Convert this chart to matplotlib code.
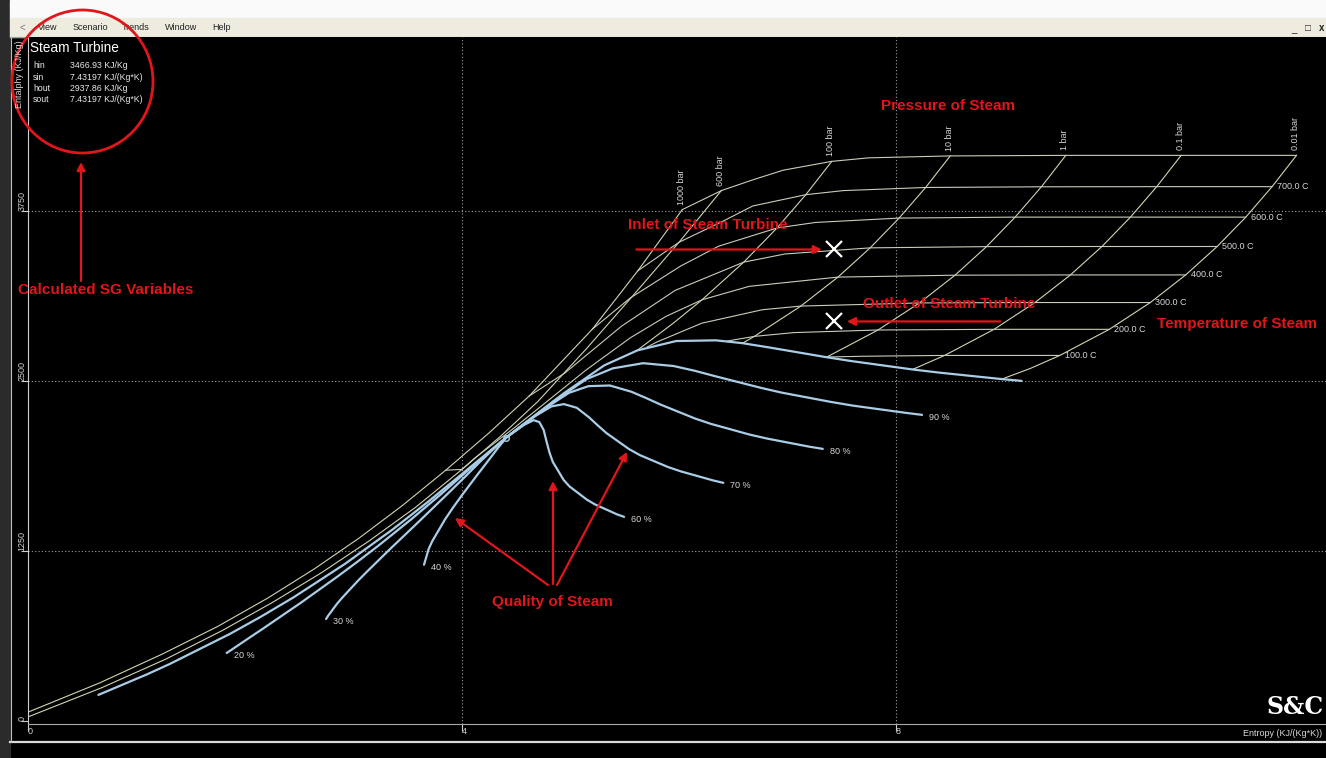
import matplotlib
matplotlib.use("Agg")
import matplotlib.pyplot as plt
from matplotlib.patches import Rectangle, Ellipse

plt.rcParams['font.family'] = ['Liberation Sans', 'DejaVu Sans']

# turbine state points
h_in, s_in = 3466.93, 7.43197
h_out, s_out = 2937.86, 7.43197

# isobars (s, h), from the 800 C end downwards
isobar_1000 = [(6.03, 3760), (5.62, 3310), (5.20, 2880), (4.62, 2390), (4.25, 2119), (3.85, 1844),
               (3.45, 1584), (3.05, 1344), (2.64, 1119), (2.21, 904), (1.75, 696), (1.24, 493),
               (0.66, 280), (0.00, 65)]
isobar_600 = [(6.39, 3900), (6.00, 3520), (5.60, 3150), (5.15, 2740), (4.70, 2350), (4.35, 2090),
              (4.00, 1850), (3.57, 1570), (3.14, 1322), (2.71, 1093), (2.26, 875), (1.79, 665),
              (1.27, 455), (0.68, 245), (0.00, 30)]
isobar_100 = [(7.408, 4115), (7.169, 3870), (6.903, 3625), (6.597, 3374), (6.212, 3097),
              (5.944, 2923), (5.614, 2725)]
isobar_10 = [(8.500, 4155), (8.273, 3923), (8.029, 3698), (7.762, 3479), (7.465, 3264),
             (7.123, 3051), (6.694, 2828), (6.586, 2778)]
isobar_1 = [(9.565, 4159), (9.340, 3928), (9.098, 3705), (8.834, 3488), (8.544, 3278),
            (8.216, 3074), (7.834, 2875), (7.359, 2675)]
isobar_01 = [(10.628, 4159), (10.403, 3929), (10.161, 3705), (9.898, 3489), (9.608, 3280),
             (9.281, 3077), (8.904, 2880), (8.448, 2688), (8.173, 2592), (8.151, 2585)]
isobar_001 = [(11.691, 4159), (11.466, 3929), (11.224, 3705), (10.960, 3489), (10.670, 3280),
              (10.344, 3077), (9.966, 2880), (9.510, 2688), (9.237, 2592), (8.975, 2514)]
isobars = [isobar_1000, isobar_600, isobar_100, isobar_10, isobar_1, isobar_01, isobar_001]
isobar_labels = ['1000 bar', '600 bar', '100 bar', '10 bar', '1 bar', '0.1 bar', '0.01 bar']

# isotherms (s, h), left to right
isotherm_800 = [(6.03, 3760), (6.39, 3900), (6.68, 3979), (6.96, 4050), (7.408, 4115), (7.75, 4141),
                (8.500, 4155), (9.565, 4159), (10.628, 4159), (11.691, 4159)]
isotherm_700 = [(5.62, 3310), (6.00, 3520), (6.42, 3681), (6.68, 3787), (7.169, 3870), (7.514, 3900),
                (8.273, 3923), (9.340, 3928), (10.403, 3929), (11.466, 3929)]
isotherm_600 = [(5.20, 2880), (5.55, 3110), (6.017, 3346), (6.364, 3491), (6.903, 3625), (7.260, 3666),
                (8.029, 3698), (9.098, 3705), (10.161, 3705), (11.224, 3705)]
isotherm_500 = [(4.62, 2390), (4.95, 2560), (5.470, 2903), (5.964, 3166), (6.597, 3374), (6.977, 3434),
                (7.762, 3479), (8.834, 3488), (9.898, 3489), (10.960, 3489)]
isotherm_400 = [(3.85, 1844), (4.00, 1850), (4.114, 1931), (4.476, 2152), (5.142, 2580), (5.554, 2819),
                (5.882, 2976), (6.212, 3097), (6.647, 3196), (7.465, 3264), (8.544, 3278),
                (9.608, 3280), (10.670, 3280)]
isotherm_300 = [(5.705, 2749), (5.794, 2786), (6.210, 2925), (6.768, 3024), (7.123, 3051),
                (8.216, 3074), (9.281, 3077), (10.344, 3077)]
isotherm_200 = [(6.431, 2792), (6.694, 2828), (7.061, 2856), (7.834, 2875), (8.904, 2880), (9.966, 2880)]
isotherm_100 = [(7.355, 2676), (7.695, 2682), (8.448, 2688), (9.510, 2688)]
isotherms = [isotherm_800, isotherm_700, isotherm_600, isotherm_500, isotherm_400,
             isotherm_300, isotherm_200, isotherm_100]
isotherm_labels = ['', '700.0 C', '600.0 C', '500.0 C', '400.0 C', '300.0 C', '200.0 C', '100.0 C']

# quality lines (s, h), from low pressure end to critical point
q0 = [(0.649, 192), (1.091, 341), (1.303, 418), (1.860, 640), (2.138, 763), (2.447, 909), (2.921, 1155),
      (3.360, 1408), (3.684, 1610), (4.015, 1826), (4.407, 2084)]
q20 = [(1.831, 500), (1.880, 526), (2.060, 623), (2.149, 670), (2.391, 802), (2.514, 869), (2.852, 1062),
       (3.028, 1166), (3.226, 1287), (3.532, 1483), (3.811, 1671), (4.009, 1811), (4.200, 1943), (4.407, 2084)]
q30 = [(2.747, 750), (2.767, 775), (2.851, 865), (2.900, 910), (3.042, 1032), (3.120, 1095), (3.348, 1273),
       (3.472, 1367), (3.615, 1476), (3.837, 1647), (4.037, 1803), (4.172, 1911), (4.293, 2002), (4.407, 2084)]
q40 = [(3.650, 1149), (3.692, 1263), (3.725, 1321), (3.844, 1483), (3.917, 1569), (4.004, 1665),
       (4.142, 1811), (4.262, 1935), (4.335, 2012), (4.385, 2060), (4.407, 2084)]
q60 = [(5.494, 1501), (5.427, 1520), (5.227, 1592), (5.150, 1628), (4.992, 1724), (4.937, 1772), (4.837, 1905),
       (4.807, 1972), (4.783, 2043), (4.753, 2139), (4.713, 2198), (4.660, 2212), (4.571, 2177), (4.407, 2084)]
q70 = [(6.409, 1751), (6.314, 1769), (6.019, 1835), (5.900, 1867), (5.642, 1954), (5.542, 1998), (5.333, 2116),
       (5.252, 2173), (5.172, 2232), (5.058, 2303), (4.939, 2330), (4.823, 2313), (4.663, 2236), (4.407, 2084)]
q80 = [(7.325, 2001), (7.201, 2017), (6.810, 2077), (6.651, 2106), (6.293, 2185), (6.148, 2224), (5.829, 2327),
       (5.696, 2375), (5.561, 2421), (5.363, 2467), (5.164, 2462), (4.986, 2413), (4.756, 2294), (4.407, 2084)]
q90 = [(8.240, 2251), (8.088, 2266), (7.602, 2319), (7.401, 2346), (6.943, 2415), (6.753, 2450), (6.325, 2537),
       (6.141, 2576), (5.951, 2610), (5.669, 2631), (5.390, 2593), (5.148, 2514), (4.848, 2353), (4.407, 2084)]
q100 = [(9.156, 2501), (8.975, 2514), (8.394, 2562), (8.151, 2585), (7.593, 2646), (7.359, 2675), (6.821, 2748),
        (6.586, 2778), (6.340, 2799), (5.974, 2794), (5.616, 2725), (5.311, 2615), (4.941, 2411), (4.407, 2084)]
quality_lines = [q0, q20, q30, q40, q60, q70, q80, q90, q100]
quality_labels = ['', '20 %', '30 %', '40 %', '60 %', '70 %', '80 %', '90 %', '']
critical = (4.407, 2084)

x_ticks = [0, 4, 8]
y_ticks = [0, 1250, 2500, 3750]

RED = '#e0161b'
W, H = 1326, 758

fig = plt.figure(figsize=(W / 100, H / 100), dpi=100, facecolor='black')

# window frame / menu bar
bg = fig.add_axes([0, 0, 1, 1])
bg.set_xlim(0, W)
bg.set_ylim(H, 0)
bg.axis('off')
bg.add_patch(Rectangle((0, 0), W, H, color='black'))
bg.add_patch(Rectangle((0, 0), 10, H, color='#2b2b2b'))
bg.add_patch(Rectangle((10, 0), W - 10, 18, color='#fafafa'))
bg.add_patch(Rectangle((10, 18), W - 10, 19, color='#eeebdf'))
bg.plot([10, W], [37, 37], color='#a0a0a0', lw=0.8)
bg.plot([10, W], [742, 742], color='#dcdcdc', lw=1.6)
bg.plot([10.5, 10.5], [37, 742], color='#bdbdbd', lw=0.8)
bg.text(22, 27.5, '<', fontsize=7, color='#777777', ha='center', va='center')
for name, xm in [('View', 38), ('Scenario', 73), ('Trends', 122), ('Window', 165), ('Help', 212)]:
    bg.text(xm, 27.5, name, fontsize=6.5, color='#222222', ha='left', va='center')
bg.text(1294, 29, '_', fontsize=7, color='#222222', ha='center', va='center')
bg.text(1308, 28, '\u25a1', fontsize=7, color='#222222', ha='center', va='center')
bg.text(1322, 28, 'x', fontsize=7, color='#222222', ha='center', va='center', weight='bold')

# chart axes
x0, y_top, y_bot = 28, 37, 724
px_s, px_h = 108.5, 0.136
ax = fig.add_axes([x0 / W, 1 - y_bot / H, (W - x0) / W, (y_bot - y_top) / H], zorder=2)
ax.set_facecolor('black')
ax.set_xlim(0, (W - x0) / px_s)
ax.set_ylim(-(y_bot - 721) / px_h, (721 - y_top) / px_h)
for sp in ['top', 'right']:
    ax.spines[sp].set_visible(False)
ax.spines['left'].set_color('#d0d0d0')
ax.spines['bottom'].set_color('#a8a8a8')
ax.set_xticks(x_ticks)
ax.set_xticklabels([str(v) for v in x_ticks])
ax.set_yticks(y_ticks)
ax.set_yticklabels([str(v) for v in y_ticks])
ax.tick_params(colors='#d0d0d0', labelsize=6.5, length=5, width=0.8, direction='out')
ax.tick_params(axis='x', pad=-3)
ax.tick_params(axis='y', pad=-4)
for lab in ax.get_xticklabels():
    lab.set_ha('left')
for lab in ax.get_yticklabels():
    lab.set_rotation(90)
    lab.set_va('bottom')
ax.set_axisbelow(True)
ax.grid(True, color='#9c9c9c', linestyle=(0, (1, 2)), lw=0.8)
ax.get_xgridlines()[0].set_visible(False)
ax.get_ygridlines()[0].set_visible(False)

for pts, lab in zip(isobars, isobar_labels):
    ax.plot([p[0] for p in pts], [p[1] for p in pts], color='#cfd6b2', lw=0.8)
    ax.annotate(lab, xy=pts[0], xytext=(-1, 5), textcoords='offset pixels', rotation=90,
                ha='center', va='bottom', fontsize=6.5, color='#d8d8d8')

for pts, lab in zip(isotherms, isotherm_labels):
    ax.plot([p[0] for p in pts], [p[1] for p in pts], color='#c6cfba', lw=0.8)
    if lab:
        ax.annotate(lab, xy=pts[-1], xytext=(5, 0), textcoords='offset pixels',
                    ha='left', va='center', fontsize=6.5, color='#d8d8d8')

for pts, lab in zip(quality_lines, quality_labels):
    ax.plot([p[0] for p in pts], [p[1] for p in pts], color='#a9cde6', lw=1.6, solid_capstyle='round')
    if lab:
        ax.annotate(lab, xy=pts[0], xytext=(7, -3), textcoords='offset pixels',
                    ha='left', va='center', fontsize=6.5, color='#d8d8d8')

ax.plot(*critical, 'o', ms=4, mfc='none', mec='#a9cde6', mew=1)

# turbine inlet / outlet
ax.plot([s_in, s_out], [h_in, h_out], 'x', color='white', ms=11, mew=1.6, zorder=5)
ax.annotate('', xy=(s_in, h_in), xytext=(-198, 0), textcoords='offset pixels',
            xycoords='data', arrowprops=dict(arrowstyle='-|>', color=RED, lw=1.6,
                                             mutation_scale=12, shrinkA=0, shrinkB=9))
ax.annotate('', xy=(s_out, h_out), xytext=(166, 0), textcoords='offset pixels',
            xycoords='data', arrowprops=dict(arrowstyle='-|>', color=RED, lw=1.6,
                                             mutation_scale=12, shrinkA=0, shrinkB=9))

ax.text(0.997, -0.008, 'Entropy (KJ/(Kg*K))', transform=ax.transAxes, ha='right', va='top',
        fontsize=6.5, color='#d8d8d8')

# overlay: info panel and red annotations
ov = fig.add_axes([0, 0, 1, 1], zorder=5)
ov.set_xlim(0, W)
ov.set_ylim(H, 0)
ov.axis('off')

ov.text(19, 40, 'Entalphy (KJ/Kg)', rotation=90, ha='center', va='top', fontsize=6.5, color='#d8d8d8')
ov.text(30, 48, 'Steam Turbine', ha='left', va='center', fontsize=9.8, color='white')
rows = [('hin', f'{h_in:.2f} KJ/Kg'), ('sin', f'{s_in:.5f} KJ/(Kg*K)'),
        ('hout', f'{h_out:.2f} KJ/Kg'), ('sout', f'{s_out:.5f} KJ/(Kg*K)')]
for i, (k, v) in enumerate(rows):
    ov.text(33, 66 + i * 11.3, k, ha='left', va='center', fontsize=6.3, color='#e8e8e8')
    ov.text(70, 66 + i * 11.3, v, ha='left', va='center', fontsize=6.3, color='#e8e8e8')

ov.add_patch(Ellipse((82.5, 81.5), 141, 143, fill=False, ec=RED, lw=2))
ov.annotate('', xy=(81, 162), xytext=(81, 281),
            arrowprops=dict(arrowstyle='-|>', color=RED, lw=1.6, mutation_scale=12, shrinkA=0, shrinkB=0))

red_kw = dict(color=RED, fontsize=11, weight='bold', va='center')
ov.text(18, 290, 'Calculated SG Variables', ha='left', **red_kw)
ov.text(948, 106, 'Pressure of Steam', ha='center', **red_kw)
ov.text(628, 225, 'Inlet of Steam Turbine', ha='left', **red_kw)
ov.text(863, 304, 'Outlet of Steam Turbine', ha='left', **red_kw)
ov.text(1157, 324, 'Temperature of Steam', ha='left', **red_kw)
ov.text(492, 602, 'Quality of Steam', ha='left', **red_kw)
for tail, head in [((548, 585), (455, 518)), ((553, 584), (553, 481)), ((557, 585), (627, 452))]:
    ov.annotate('', xy=head, xytext=tail,
                arrowprops=dict(arrowstyle='-|>', color=RED, lw=1.6, mutation_scale=12, shrinkA=0, shrinkB=0))

ov.text(1324, 719, 'S&C', ha='right', va='bottom', fontsize=17, weight='bold',
        family='DejaVu Serif', color='white')

fig.savefig('out.png', dpi=100, facecolor='black')
